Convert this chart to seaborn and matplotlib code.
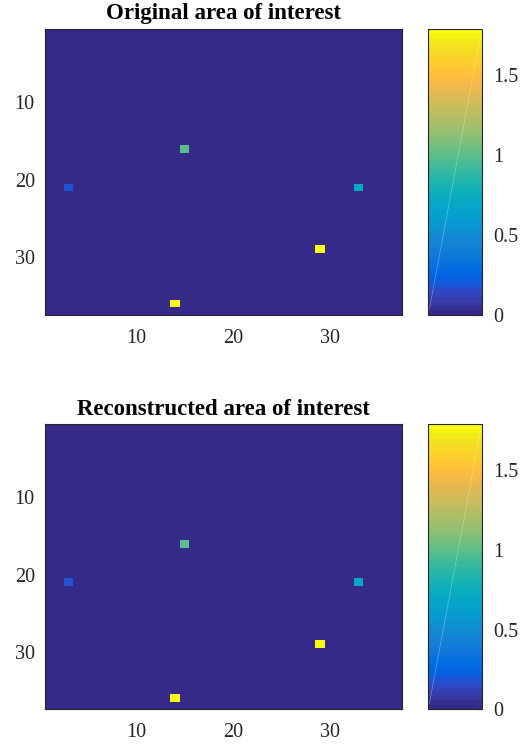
import numpy as np
import matplotlib
matplotlib.use("Agg")
import matplotlib.pyplot as plt
import seaborn as sns
from matplotlib.colors import LinearSegmentedColormap

# ---- data ----
grid_size = 37
point_rows = [21, 16, 21, 29, 36]
point_cols = [3, 15, 33, 29, 14]
original_values = [0.17, 1.0, 0.70, 1.79, 1.79]
reconstructed_values = [0.17, 1.0, 0.70, 1.79, 1.79]
axis_ticks = [10, 20, 30]
cbar_ticks = [0, 0.5, 1, 1.5]
cbar_ticklabels = ["0", "0.5", "1", "1.5"]
titles = ["Original area of interest", "Reconstructed area of interest"]
vmax = 1.79

parula_data = [
    [0.2081, 0.1663, 0.5292], [0.2116, 0.1898, 0.5777], [0.2123, 0.2138, 0.6270],
    [0.2081, 0.2386, 0.6771], [0.1959, 0.2645, 0.7279], [0.1707, 0.2919, 0.7792],
    [0.1253, 0.3242, 0.8303], [0.0591, 0.3598, 0.8683], [0.0117, 0.3875, 0.8820],
    [0.0060, 0.4086, 0.8828], [0.0165, 0.4266, 0.8786], [0.0329, 0.4430, 0.8720],
    [0.0498, 0.4586, 0.8641], [0.0629, 0.4737, 0.8554], [0.0723, 0.4887, 0.8467],
    [0.0779, 0.5040, 0.8384], [0.0793, 0.5200, 0.8312], [0.0749, 0.5375, 0.8263],
    [0.0641, 0.5570, 0.8240], [0.0488, 0.5772, 0.8228], [0.0343, 0.5966, 0.8199],
    [0.0265, 0.6137, 0.8135], [0.0239, 0.6287, 0.8038], [0.0231, 0.6418, 0.7913],
    [0.0228, 0.6535, 0.7768], [0.0267, 0.6642, 0.7607], [0.0384, 0.6743, 0.7436],
    [0.0590, 0.6838, 0.7254], [0.0843, 0.6928, 0.7062], [0.1133, 0.7015, 0.6859],
    [0.1453, 0.7098, 0.6646], [0.1801, 0.7177, 0.6424], [0.2178, 0.7250, 0.6193],
    [0.2586, 0.7317, 0.5954], [0.3022, 0.7376, 0.5712], [0.3482, 0.7424, 0.5473],
    [0.3953, 0.7459, 0.5244], [0.4420, 0.7481, 0.5033], [0.4871, 0.7491, 0.4840],
    [0.5300, 0.7491, 0.4661], [0.5709, 0.7485, 0.4494], [0.6099, 0.7473, 0.4337],
    [0.6473, 0.7456, 0.4188], [0.6834, 0.7435, 0.4044], [0.7184, 0.7411, 0.3905],
    [0.7525, 0.7384, 0.3768], [0.7858, 0.7356, 0.3633], [0.8185, 0.7327, 0.3498],
    [0.8507, 0.7299, 0.3360], [0.8824, 0.7274, 0.3217], [0.9139, 0.7258, 0.3063],
    [0.9450, 0.7261, 0.2886], [0.9739, 0.7314, 0.2666], [0.9938, 0.7455, 0.2403],
    [0.9990, 0.7653, 0.2164], [0.9955, 0.7861, 0.1967], [0.9880, 0.8066, 0.1794],
    [0.9789, 0.8271, 0.1633], [0.9697, 0.8481, 0.1475], [0.9626, 0.8705, 0.1309],
    [0.9589, 0.8949, 0.1132], [0.9598, 0.9218, 0.0948], [0.9661, 0.9514, 0.0755],
    [0.9763, 0.9831, 0.0538],
]
parula = LinearSegmentedColormap.from_list("parula", parula_data, N=64)

sns.set_style("white")
plt.rcParams["font.family"] = ["Liberation Serif", "DejaVu Serif"]
plt.rcParams["font.size"] = 14

W, H = 528, 749
fig = plt.figure(figsize=(W / 100, H / 100), dpi=100)

def fx(px):
    return px / W

def fy(py):
    return 1 - py / H

layouts = [
    (44.5, 402.0, 29.0, 315.0),
    (44.5, 402.0, 424.3, 709.3),
]
cb_x0, cb_x1 = 428.3, 481.7
edge = "#262626"
label_col = "#262626"

for title, vals, (x0, x1, y0, y1) in zip(titles, [original_values, reconstructed_values], layouts):
    data = np.zeros((grid_size, grid_size))
    for r, c, v in zip(point_rows, point_cols, vals):
        data[r - 1, c - 1] = v
    ax = fig.add_axes([fx(x0), fy(y1), fx(x1) - fx(x0), fy(y0) - fy(y1)])
    cax = fig.add_axes([fx(cb_x0), fy(y1), fx(cb_x1) - fx(cb_x0), fy(y0) - fy(y1)])
    sns.heatmap(data, cmap=parula, vmin=0, vmax=vmax, ax=ax, cbar_ax=cax,
                xticklabels=False, yticklabels=False, square=False)
    ax.set_aspect("auto")
    ax.set_position([fx(x0), fy(y1), fx(x1) - fx(x0), fy(y0) - fy(y1)])
    ax.set_xticks([t - 0.5 for t in axis_ticks])
    ax.set_xticklabels([str(t) for t in axis_ticks])
    ax.set_yticks([t - 0.5 for t in axis_ticks])
    ax.set_yticklabels([str(t) for t in axis_ticks], rotation=0)
    ax.tick_params(direction="in", length=4, width=0.8, color=edge,
                   top=True, right=True, bottom=True, left=True,
                   labelsize=14.5, labelcolor=label_col)
    ax.tick_params(axis="x", pad=10)
    ax.tick_params(axis="y", pad=7)
    for sp in ax.spines.values():
        sp.set_visible(True)
        sp.set_color(edge)
        sp.set_linewidth(0.8)
    ax.set_title(title, fontweight="bold", fontsize=16.5, pad=7, color="black")

    cbar = ax.collections[0].colorbar
    cbar.set_ticks(cbar_ticks)
    cbar.set_ticklabels(cbar_ticklabels)
    cax.tick_params(direction="in", length=4, width=0.8, color=edge,
                    labelsize=14.5, pad=8, right=True, left=False, labelcolor=label_col)
    cbar.outline.set_visible(True)
    cbar.outline.set_edgecolor(edge)
    cbar.outline.set_linewidth(0.8)
    cax.plot([0.02, 0.98], [0.02, 0.98], transform=cax.transAxes,
             color="white", alpha=0.35, lw=0.5)

fig.savefig("out.png", dpi=100)
